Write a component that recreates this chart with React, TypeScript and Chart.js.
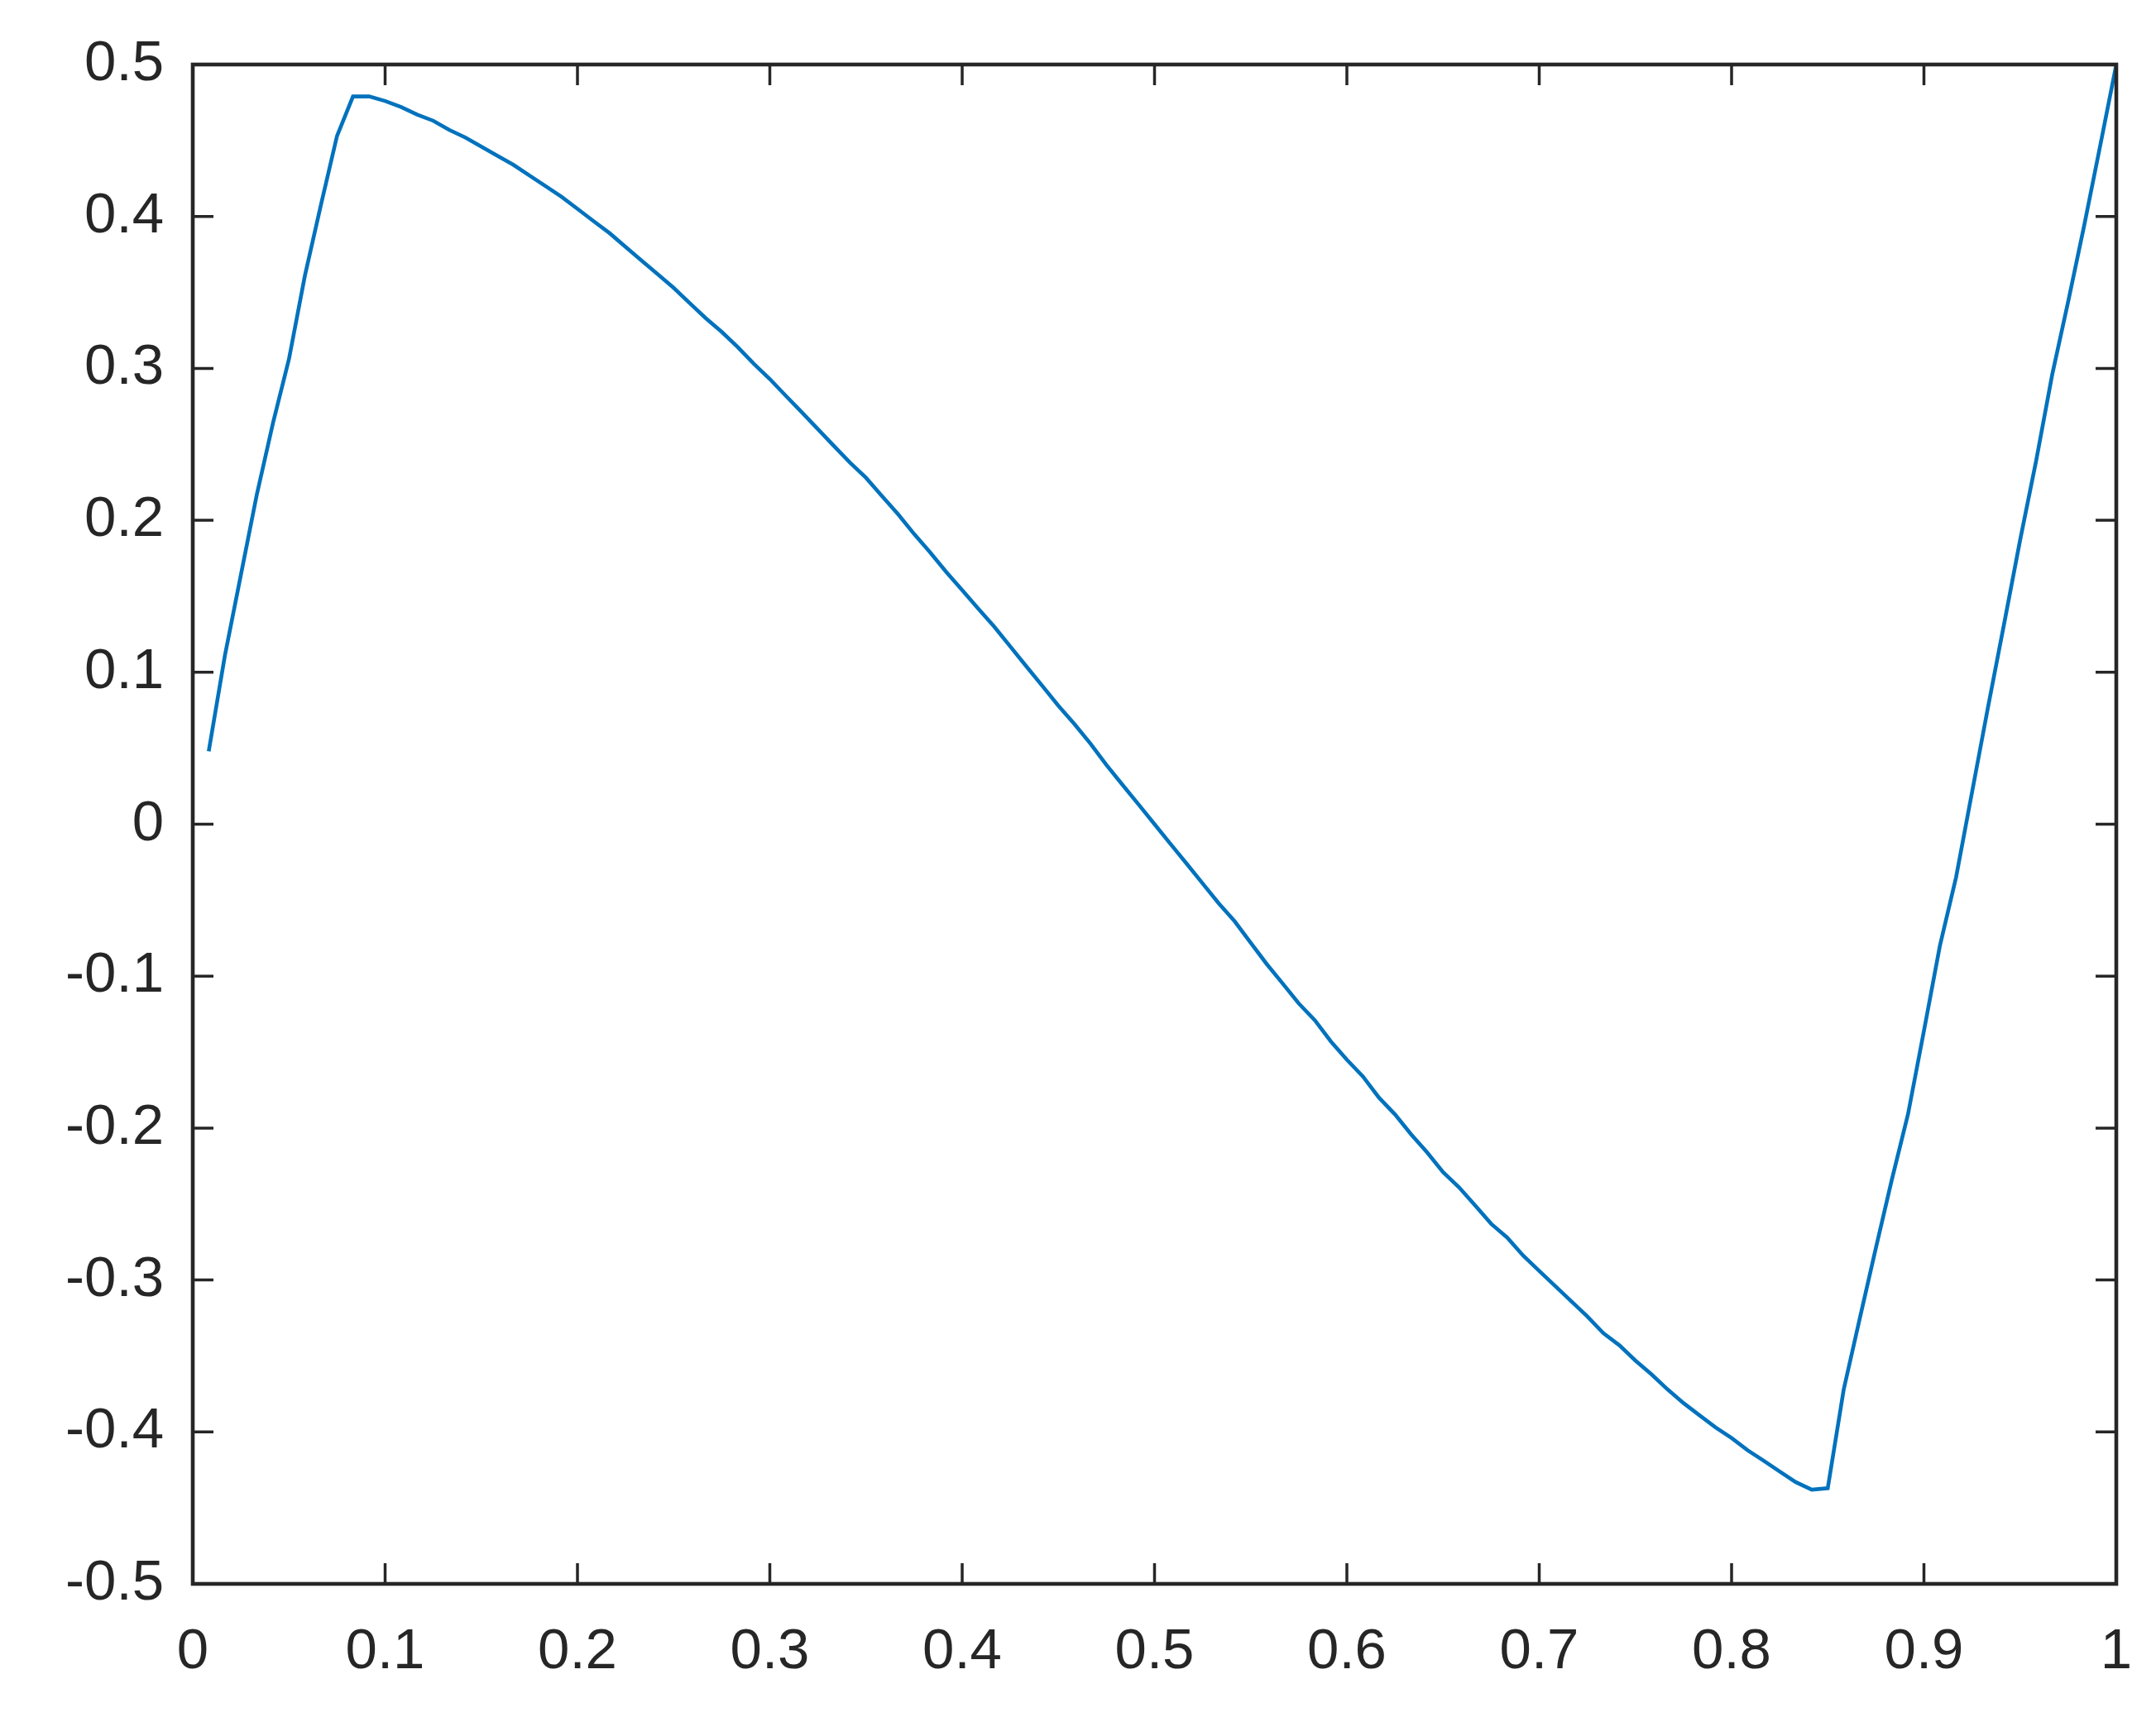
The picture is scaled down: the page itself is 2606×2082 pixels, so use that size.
import React, { useEffect, useRef } from "react";
import { Chart, registerables } from "chart.js";

Chart.register(...registerables);

// sample positions (k/120)
const xValues = [
  0.0083, 0.0167, 0.025, 0.0333, 0.0417, 0.05, 0.0583, 0.0667, 0.075, 0.0833,
  0.0917, 0.1, 0.1083, 0.1167, 0.125, 0.1333, 0.1417, 0.15, 0.1583, 0.1667,
  0.175, 0.1833, 0.1917, 0.2, 0.2083, 0.2167, 0.225, 0.2333, 0.2417, 0.25,
  0.2583, 0.2667, 0.275, 0.2833, 0.2917, 0.3, 0.3083, 0.3167, 0.325, 0.3333,
  0.3417, 0.35, 0.3583, 0.3667, 0.375, 0.3833, 0.3917, 0.4, 0.4083, 0.4167,
  0.425, 0.4333, 0.4417, 0.45, 0.4583, 0.4667, 0.475, 0.4833, 0.4917, 0.5,
  0.5083, 0.5167, 0.525, 0.5333, 0.5417, 0.55, 0.5583, 0.5667, 0.575, 0.5833,
  0.5917, 0.6, 0.6083, 0.6167, 0.625, 0.6333, 0.6417, 0.65, 0.6583, 0.6667,
  0.675, 0.6833, 0.6917, 0.7, 0.7083, 0.7167, 0.725, 0.7333, 0.7417, 0.75,
  0.7583, 0.7667, 0.775, 0.7833, 0.7917, 0.8, 0.8083, 0.8167, 0.825, 0.8333,
  0.8417, 0.85, 0.8583, 0.8667, 0.875, 0.8833, 0.8917, 0.9, 0.9083, 0.9167,
  0.925, 0.9333, 0.9417, 0.95, 0.9583, 0.9667, 0.975, 0.9833, 0.9917, 1.0,
];

const yValues = [
  0.048, 0.111, 0.164, 0.217, 0.264, 0.306, 0.361, 0.408, 0.453, 0.479,
  0.479, 0.476, 0.472, 0.467, 0.463, 0.457, 0.452, 0.446, 0.44, 0.434,
  0.427, 0.42, 0.413, 0.405, 0.397, 0.389, 0.38, 0.371, 0.362, 0.353,
  0.343, 0.333, 0.324, 0.314, 0.303, 0.293, 0.282, 0.271, 0.26, 0.249,
  0.238, 0.228, 0.216, 0.204, 0.191, 0.179, 0.166, 0.154, 0.142, 0.13,
  0.117, 0.104, 0.091, 0.078, 0.066, 0.053, 0.039, 0.026, 0.013, 0.0,
  -0.013, -0.026, -0.039, -0.052, -0.064, -0.078, -0.092, -0.105, -0.118, -0.129,
  -0.143, -0.155, -0.166, -0.18, -0.191, -0.204, -0.216, -0.229, -0.239, -0.251,
  -0.263, -0.272, -0.284, -0.294, -0.304, -0.314, -0.324, -0.335, -0.343, -0.353,
  -0.362, -0.372, -0.381, -0.389, -0.397, -0.404, -0.412, -0.419, -0.426, -0.433,
  -0.438, -0.437, -0.372, -0.325, -0.279, -0.234, -0.191, -0.136, -0.08, -0.035,
  0.021, 0.077, 0.132, 0.187, 0.239, 0.296, 0.344, 0.394, 0.447, 0.5,
];

const xTicks = [0, 0.1, 0.2, 0.3, 0.4, 0.5, 0.6, 0.7, 0.8, 0.9, 1];
const xTickLabels = ["0", "0.1", "0.2", "0.3", "0.4", "0.5", "0.6", "0.7", "0.8", "0.9", "1"];
const yTicks = [-0.5, -0.4, -0.3, -0.2, -0.1, 0, 0.1, 0.2, 0.3, 0.4, 0.5];
const yTickLabels = ["-0.5", "-0.4", "-0.3", "-0.2", "-0.1", "0", "0.1", "0.2", "0.3", "0.4", "0.5"];

const W = 2606;
const H = 2082;
const AXIS_COLOR = "#262626";
const FONT = "'Liberation Sans', Arial, Helvetica, sans-serif";

const boxPlugin = {
  id: "matlabBox",
  afterDatasetsDraw(chart: any) {
    const { ctx, chartArea, scales } = chart;
    const { left, right, top, bottom } = chartArea;
    const tl = 25;
    ctx.save();
    ctx.strokeStyle = AXIS_COLOR;
    ctx.lineWidth = 3.5;
    ctx.beginPath();
    xTicks.forEach((v) => {
      const px = scales.x.getPixelForValue(v);
      ctx.moveTo(px, bottom);
      ctx.lineTo(px, bottom - tl);
      ctx.moveTo(px, top);
      ctx.lineTo(px, top + tl);
    });
    yTicks.forEach((v) => {
      const py = scales.y.getPixelForValue(v);
      ctx.moveTo(left, py);
      ctx.lineTo(left + tl, py);
      ctx.moveTo(right, py);
      ctx.lineTo(right - tl, py);
    });
    ctx.stroke();
    ctx.lineWidth = 4.6;
    ctx.strokeRect(left, top, right - left, bottom - top);
    ctx.restore();
  },
};

export default function App() {
  const canvasRef = useRef<HTMLCanvasElement | null>(null);

  useEffect(() => {
    const canvas = canvasRef.current;
    if (!canvas) return;
    const points = xValues.map((x, i) => ({ x, y: yValues[i] }));
    const chart = new Chart(canvas, {
      type: "line",
      data: {
        datasets: [
          {
            data: points,
            borderColor: "#0072BD",
            borderWidth: 4.6,
            pointRadius: 0,
            tension: 0,
            fill: false,
          },
        ],
      },
      options: {
        animation: false,
        responsive: false,
        devicePixelRatio: 1,
        layout: { padding: { top: 78, right: 48, left: 0, bottom: 0 } },
        plugins: {
          legend: { display: false },
          tooltip: { enabled: false },
        },
        scales: {
          x: {
            type: "linear",
            min: 0,
            max: 1,
            grid: { display: false, drawTicks: false },
            border: { display: false },
            afterFit: (scale: any) => {
              scale.height = 167;
              scale.paddingLeft = 0;
              scale.paddingRight = 0;
            },
            afterBuildTicks: (scale: any) => {
              scale.ticks = xTicks.map((v) => ({ value: v }));
            },
            ticks: {
              autoSkip: false,
              maxRotation: 0,
              minRotation: 0,
              padding: 42,
              color: AXIS_COLOR,
              font: { family: FONT, size: 69 },
              callback: (value: any) => {
                const i = xTicks.findIndex((t) => Math.abs(t - Number(value)) < 1e-9);
                return i >= 0 ? xTickLabels[i] : "";
              },
            },
          },
          y: {
            type: "linear",
            min: -0.5,
            max: 0.5,
            grid: { display: false, drawTicks: false },
            border: { display: false },
            afterFit: (scale: any) => {
              scale.width = 233;
              scale.paddingTop = 0;
              scale.paddingBottom = 0;
            },
            afterBuildTicks: (scale: any) => {
              scale.ticks = yTicks.map((v) => ({ value: v }));
            },
            ticks: {
              autoSkip: false,
              padding: 35,
              color: AXIS_COLOR,
              font: { family: FONT, size: 69 },
              callback: (value: any) => {
                const i = yTicks.findIndex((t) => Math.abs(t - Number(value)) < 1e-9);
                return i >= 0 ? yTickLabels[i] : "";
              },
            },
          },
        },
      },
      plugins: [boxPlugin],
    });
    return () => chart.destroy();
  }, []);

  return (
    <div style={{ position: "fixed", left: 0, top: 0, width: W, height: H, background: "#fff" }}>
      <canvas ref={canvasRef} width={W} height={H} style={{ width: W, height: H, display: "block" }} />
    </div>
  );
}
